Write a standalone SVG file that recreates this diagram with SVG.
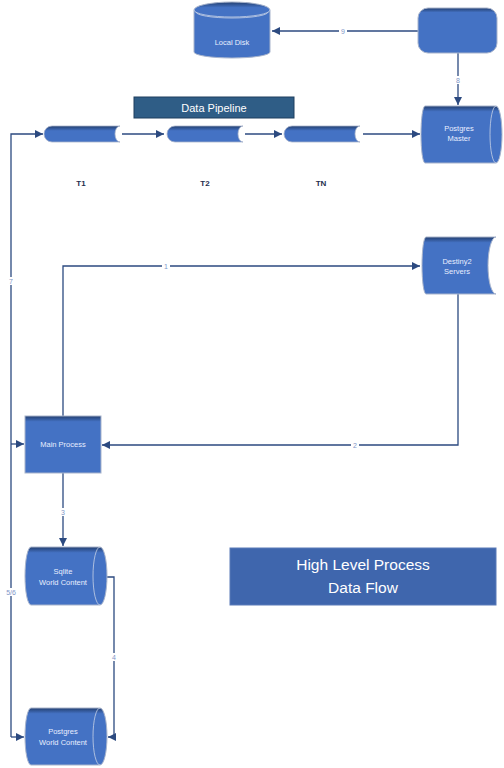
<svg xmlns="http://www.w3.org/2000/svg" width="504" height="768" viewBox="0 0 504 768">
<defs>
<linearGradient id="g" x1="0" y1="0" x2="0" y2="1">
<stop offset="0" stop-color="#233f70"/>
<stop offset="0.1" stop-color="#4472c4"/>
<stop offset="1" stop-color="#4472c4"/>
</linearGradient>
<linearGradient id="gp" x1="0" y1="0" x2="0" y2="1">
<stop offset="0" stop-color="#233f70"/>
<stop offset="0.3" stop-color="#4472c4"/>
<stop offset="1" stop-color="#4472c4"/>
</linearGradient>
<marker id="a" viewBox="0 0 10 10" refX="10" refY="5" markerWidth="8" markerHeight="8" orient="auto" markerUnits="userSpaceOnUse">
<path d="M0,0 L10,5 L0,10 z" fill="#2c4a80"/>
</marker>
</defs>
<style>
.n{fill:url(#g);stroke:#a8b4cc;stroke-width:1}
.p{fill:url(#gp);stroke:#a8b4cc;stroke-width:0.8}
.in{fill:none;stroke:#c8d2e6;stroke-width:0.8}
.t{font-family:"Liberation Sans",Arial,sans-serif;font-size:7.5px;fill:#e8eeff;text-anchor:middle}
.tl{font-family:"Liberation Sans",Arial,sans-serif;font-size:8px;font-weight:bold;fill:#1f2d4d;text-anchor:middle}
.c{fill:none;stroke:#2c4a80;stroke-width:1.3}
.cl{font-family:"Liberation Sans",Arial,sans-serif;font-size:7px;fill:#7f96c8;text-anchor:middle}
.bg{fill:#ffffff}
</style>
<rect width="504" height="768" fill="#ffffff"/>

<g id="connectors">
<path class="c" d="M418,31 H272" marker-end="url(#a)"/>
<path class="c" d="M458,53 V105" marker-end="url(#a)"/>
<path class="c" d="M122,134 H164" marker-end="url(#a)"/>
<path class="c" d="M245,134 H282" marker-end="url(#a)"/>
<path class="c" d="M363,134 H420" marker-end="url(#a)"/>
<path class="c" d="M11,737 V134 H43" marker-end="url(#a)"/>
<path class="c" d="M11,444 H24" marker-end="url(#a)"/>
<path class="c" d="M11,737 H24" marker-end="url(#a)"/>
<path class="c" d="M63,416 V266 H420" marker-end="url(#a)"/>
<path class="c" d="M458,294 V445 H102" marker-end="url(#a)"/>
<path class="c" d="M63,473 V546" marker-end="url(#a)"/>
<path class="c" d="M106,577 H114 V737 H108" marker-end="url(#a)"/>
<rect class="bg" x="339" y="27" width="8" height="8"/>
<text class="cl" x="343" y="33.5">9</text>
<rect class="bg" x="454" y="76" width="8" height="8"/>
<text class="cl" x="458" y="82.5">8</text>
<rect class="bg" x="162" y="262" width="8" height="8"/>
<text class="cl" x="166" y="268.5">1</text>
<rect class="bg" x="351" y="441" width="8" height="8"/>
<text class="cl" x="355" y="447.5">2</text>
<rect class="bg" x="59" y="508" width="8" height="8"/>
<text class="cl" x="63" y="514.5">3</text>
<rect class="bg" x="110" y="653" width="8" height="8"/>
<text class="cl" x="114" y="659.5">4</text>
<rect class="bg" x="7" y="277" width="8" height="8"/>
<text class="cl" x="11" y="283.5">7</text>
<rect class="bg" x="4" y="588" width="14" height="8"/>
<text class="cl" x="11" y="594.5">5/6</text>
</g>

<g id="local-disk">
<path class="n" d="M194,10 A38,8 0 0 1 270,10 V52 A38,6 0 0 1 194,52 Z"/>
<path class="in" d="M194,10 A38,7 0 0 0 270,10"/>
<path class="in" d="M196,12 A36,6 0 0 0 268,12"/>
<text class="t" x="232" y="45">Local Disk</text>
</g>

<g id="top-right-box">
<rect class="n" x="418" y="8" width="79" height="45" rx="10" ry="10"/>
</g>

<g id="data-pipeline-title">
<rect x="134" y="97" width="160" height="21" fill="#2f5d86" stroke="#1e3f5e" stroke-width="1"/>
<text x="214" y="111.5" font-family="Liberation Sans, Arial, sans-serif" font-size="11px" fill="#ffffff" text-anchor="middle">Data Pipeline</text>
</g>

<g id="t1">
<path class="p" d="M52,126 H120 A5,8 0 0 0 120,142 H52 A8,8 0 0 1 52,126 Z"/>
<text class="tl" x="81" y="186">T1</text>
</g>
<g id="t2">
<path class="p" d="M175,126 H243 A5,8 0 0 0 243,142 H175 A8,8 0 0 1 175,126 Z"/>
<text class="tl" x="205" y="186">T2</text>
</g>
<g id="tn">
<path class="p" d="M292,126 H360 A5,8 0 0 0 360,142 H292 A8,8 0 0 1 292,126 Z"/>
<text class="tl" x="321" y="186">TN</text>
</g>

<g id="postgres-master">
<path class="n" d="M425,106 H496 A6,28.5 0 0 1 496,163 H425 A4,28.5 0 0 1 425,106 Z"/>
<path class="in" d="M496,106 A6,28.5 0 0 0 496,163"/>
<text class="t" x="459" y="131">Postgres</text>
<text class="t" x="459" y="141">Master</text>
</g>

<g id="destiny2-servers">
<path class="n" d="M426,237 H496 A8,28.5 0 0 0 496,294 H426 A4,28.5 0 0 1 426,237 Z"/>
<text class="t" x="457" y="264">Destiny2</text>
<text class="t" x="457" y="274">Servers</text>
</g>

<g id="main-process">
<rect class="n" x="25" y="416" width="76" height="57"/>
<text class="t" x="63" y="447">Main Process</text>
</g>

<g id="sqlite-world-content">
<path class="n" d="M31,547 H100 A7,29 0 0 1 100,605 H31 A6,29 0 0 1 31,547 Z"/>
<path class="in" d="M100,547 A7,29 0 0 0 100,605"/>
<text class="t" x="63" y="574">Sqlite</text>
<text class="t" x="63" y="585">World Content</text>
</g>

<g id="postgres-world-content">
<path class="n" d="M31,708 H100 A7,28.5 0 0 1 100,765 H31 A6,28.5 0 0 1 31,708 Z"/>
<path class="in" d="M100,708 A7,28.5 0 0 0 100,765"/>
<text class="t" x="63" y="734">Postgres</text>
<text class="t" x="63" y="745">World Content</text>
</g>

<g id="title">
<rect x="230" y="548" width="266" height="57" fill="#3f66ad" stroke="#5a7ab8" stroke-width="1"/>
<text x="363" y="570" font-family="Liberation Sans, Arial, sans-serif" font-size="15.5px" fill="#ffffff" text-anchor="middle">High Level Process</text>
<text x="363" y="593" font-family="Liberation Sans, Arial, sans-serif" font-size="15.5px" fill="#ffffff" text-anchor="middle">Data Flow</text>
</g>
</svg>
